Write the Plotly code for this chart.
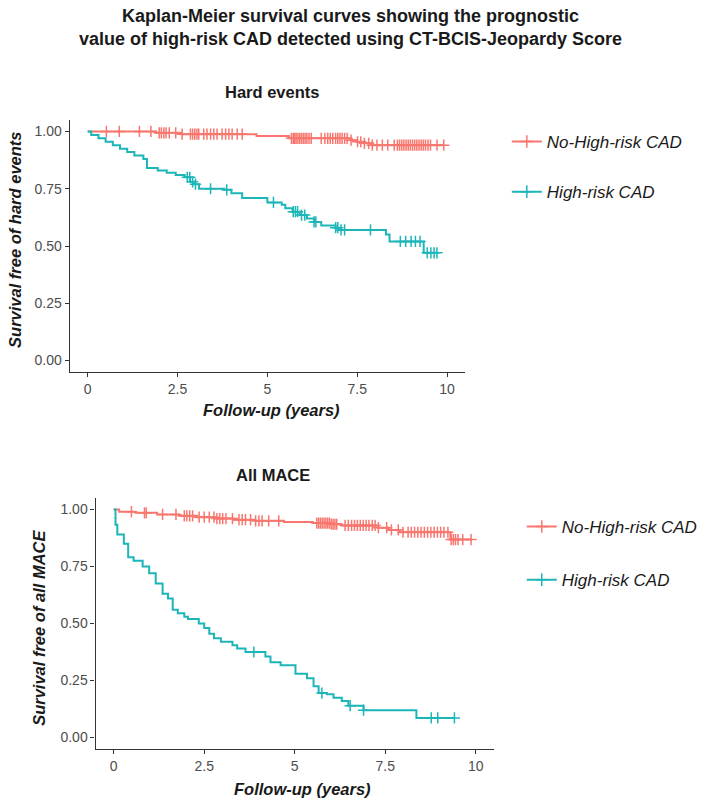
import bisect
import plotly.graph_objects as go

# ---------------- DATA ----------------
group_names = ["No-High-risk CAD", "High-risk CAD"]
x_ticks = [0, 2.5, 5, 7.5, 10]
x_tick_labels = ["0", "2.5", "5", "7.5", "10"]
y_ticks = [0, 0.25, 0.5, 0.75, 1.0]
y_tick_labels = ["0.00", "0.25", "0.50", "0.75", "1.00"]

# Hard events - No-High-risk CAD
hard_low_t = [0, 1.9, 2.6, 4.7, 5.6, 7.3, 7.5, 7.7, 7.9, 9.91]
hard_low_s = [1.0, 0.994, 0.988, 0.98, 0.97, 0.962, 0.955, 0.948, 0.94, 0.94]
hard_low_cens = [0.52, 0.88, 1.44, 1.76, 1.99, 2.05, 2.12, 2.18, 2.27, 2.45, 2.63,
                 2.86, 2.92, 2.98, 3.04, 3.09, 3.23, 3.32, 3.42, 3.51, 3.6, 3.74,
                 3.84, 3.93, 4.02, 4.16, 4.3, 5.67, 5.72, 5.76, 5.8, 5.85, 5.9,
                 5.95, 6.0, 6.05, 6.1, 6.16, 6.22, 6.5, 6.6, 6.68, 6.75, 6.82,
                 6.9, 6.96, 7.02, 7.08, 7.15, 7.22, 7.33, 7.51, 7.6, 7.7, 7.82,
                 7.92, 8.05, 8.2, 8.35, 8.53, 8.62, 8.68, 8.74, 8.8, 8.86, 8.92,
                 8.98, 9.04, 9.1, 9.16, 9.22, 9.28, 9.34, 9.4, 9.47, 9.54, 9.72, 9.91]

# Hard events - High-risk CAD
hard_high_t = [0, 0.1, 0.3, 0.5, 0.7, 0.9, 1.1, 1.3, 1.55, 1.65, 1.95, 2.2, 2.45,
               2.7, 2.85, 2.95, 3.1, 3.8, 4.0, 4.3, 5.0, 5.4, 5.5, 5.7, 5.9, 6.1,
               6.3, 6.5, 6.9, 7.0, 8.3, 8.4, 9.35, 9.72]
hard_high_s = [1.0, 0.985, 0.97, 0.955, 0.94, 0.925, 0.91, 0.895, 0.88, 0.84, 0.83,
               0.82, 0.81, 0.80, 0.78, 0.77, 0.75, 0.745, 0.73, 0.71, 0.69, 0.68,
               0.665, 0.65, 0.635, 0.62, 0.605, 0.59, 0.58, 0.57, 0.55, 0.52, 0.47, 0.47]
hard_high_cens = [2.77, 2.84, 2.92, 3.0, 3.42, 3.87, 5.17, 5.72, 5.78, 5.84, 5.95,
                  6.04, 6.3, 6.35, 6.9, 6.96, 7.05, 7.15, 7.87, 8.7, 8.85, 9.0,
                  9.12, 9.25, 9.45, 9.55, 9.64, 9.72]

# All MACE - No-High-risk CAD
mace_low_t = [0, 0.15, 0.6, 1.2, 1.8, 2.3, 2.8, 3.3, 3.9, 4.7, 5.5, 6.0, 6.3,
              7.3, 7.6, 7.9, 9.3, 9.87]
mace_low_s = [1.0, 0.99, 0.985, 0.978, 0.972, 0.966, 0.96, 0.955, 0.95, 0.945,
              0.94, 0.935, 0.93, 0.92, 0.91, 0.90, 0.868, 0.868]
mace_low_cens = [0.49, 0.85, 0.9, 1.35, 1.72, 1.95, 2.02, 2.1, 2.18, 2.36, 2.5,
                 2.64, 2.77, 2.85, 2.93, 3.01, 3.1, 3.28, 3.46, 3.55, 3.64, 3.78,
                 3.92, 4.01, 4.1, 4.28, 4.56, 5.61, 5.66, 5.71, 5.76, 5.81, 5.86,
                 5.91, 5.96, 6.01, 6.06, 6.11, 6.16, 6.39, 6.48, 6.57, 6.65, 6.73,
                 6.81, 6.89, 6.97, 7.05, 7.14, 7.22, 7.31, 7.54, 7.67, 7.86, 7.99,
                 8.13, 8.22, 8.31, 8.4, 8.49, 8.58, 8.67, 8.76, 8.85, 8.94, 9.03,
                 9.12, 9.23, 9.32, 9.38, 9.44, 9.51, 9.64, 9.87]

# All MACE - High-risk CAD
mace_high_t = [0, 0.05, 0.1, 0.28, 0.4, 0.55, 0.8, 0.98, 1.16, 1.35, 1.5, 1.63,
               1.77, 1.95, 2.05, 2.35, 2.5, 2.64, 2.77, 2.96, 3.28, 3.41, 3.64,
               4.19, 4.33, 4.61, 5.02, 5.34, 5.52, 5.66, 5.89, 6.07, 6.3, 6.48,
               6.9, 8.36, 9.41]
mace_high_s = [1.0, 0.933, 0.89, 0.85, 0.79, 0.775, 0.75, 0.72, 0.675, 0.63, 0.61,
               0.56, 0.545, 0.53, 0.52, 0.5, 0.48, 0.455, 0.435, 0.42, 0.405, 0.39,
               0.375, 0.355, 0.33, 0.317, 0.28, 0.26, 0.225, 0.195, 0.19, 0.175,
               0.16, 0.14, 0.12, 0.086, 0.086]
mace_high_cens = [3.87, 5.75, 6.53, 6.9, 8.77, 8.95, 9.41]

# ---------------- STYLE ----------------
RED = "#F8766D"
TEAL = "#1CB5B8"
FONT = "Liberation Sans, Arial, sans-serif"
W, H = 703, 804


def surv_at(times, surv, t):
    i = bisect.bisect_right(times, t) - 1
    return surv[max(i, 0)]


fig = go.Figure()

panels = [
    ("x", "y", [(hard_low_t, hard_low_s, hard_low_cens, RED),
                (hard_high_t, hard_high_s, hard_high_cens, TEAL)], "legend"),
    ("x2", "y2", [(mace_low_t, mace_low_s, mace_low_cens, RED),
                  (mace_high_t, mace_high_s, mace_high_cens, TEAL)], "legend2"),
]

for xa, ya, series, leg in panels:
    for gi, (t, s, cens, col) in enumerate(series):
        fig.add_trace(go.Scatter(
            x=t, y=s, mode="lines", line=dict(color=col, width=2, shape="hv"),
            xaxis=xa, yaxis=ya, showlegend=False, hoverinfo="skip"))
        fig.add_trace(go.Scatter(
            x=cens, y=[surv_at(t, s, c) for c in cens], mode="markers",
            marker=dict(symbol="cross-thin", size=8,
                        line=dict(color=col, width=1.5)),
            xaxis=xa, yaxis=ya, showlegend=False, hoverinfo="skip"))
        fig.add_trace(go.Scatter(
            x=[None], y=[None], mode="lines+markers", name=group_names[gi],
            line=dict(color=col, width=2),
            marker=dict(symbol="cross-thin", size=9,
                        line=dict(color=col, width=1.5)),
            xaxis=xa, yaxis=ya, legend=leg, legendgroup=leg + str(gi)))


def px_x(p):
    return p / W


def px_y(p):
    return 1 - p / H


axis_common = dict(showline=True, linecolor="#333333", linewidth=1.2,
                   ticks="outside", ticklen=4, tickcolor="#333333", tickwidth=1.2,
                   showgrid=False, zeroline=False,
                   tickfont=dict(family=FONT, size=14, color="#4D4D4D"))

leg_font = dict(family=FONT, size=17, color="#1a1a1a", style="italic")
fig.update_layout(
    width=W, height=H, margin=dict(l=0, r=0, t=0, b=0),
    paper_bgcolor="white", plot_bgcolor="white",
    font=dict(family=FONT),
    xaxis=dict(domain=[px_x(70), px_x(467)], range=[-0.5, 10.5], anchor="y",
               tickvals=x_ticks, ticktext=x_tick_labels, **axis_common),
    yaxis=dict(domain=[px_y(372), px_y(120)], range=[-0.05, 1.05], anchor="x",
               tickvals=y_ticks, ticktext=y_tick_labels, **axis_common),
    xaxis2=dict(domain=[px_x(96), px_x(496)], range=[-0.5, 10.5], anchor="y2",
                tickvals=x_ticks, ticktext=x_tick_labels, **axis_common),
    yaxis2=dict(domain=[px_y(749), px_y(498)], range=[-0.05, 1.05], anchor="x2",
                tickvals=y_ticks, ticktext=y_tick_labels, **axis_common),
    legend=dict(x=px_x(509), y=px_y(124), xanchor="left", yanchor="top",
                font=leg_font, tracegroupgap=25, bgcolor="rgba(0,0,0,0)"),
    legend2=dict(x=px_x(524), y=px_y(509), xanchor="left", yanchor="top",
                 font=leg_font, tracegroupgap=28, bgcolor="rgba(0,0,0,0)"),
)

ann = []
title_font = dict(family=FONT, size=18, color="#1a1a1a", weight="bold")
ann.append(dict(text="Kaplan-Meier survival curves showing the prognostic<br>"
                     "value of high-risk CAD detected using CT-BCIS-Jeopardy Score",
                x=px_x(352), y=px_y(4), xref="paper", yref="paper",
                xanchor="center", yanchor="top", showarrow=False,
                font=title_font, align="center"))
sub_font = dict(family=FONT, size=16.5, color="#1a1a1a", weight="bold")
ann.append(dict(text="Hard events", x=px_x(273), y=px_y(92), xref="paper",
                yref="paper", xanchor="center", yanchor="middle", showarrow=False,
                font=sub_font))
ann.append(dict(text="All MACE", x=px_x(274), y=px_y(475), xref="paper",
                yref="paper", xanchor="center", yanchor="middle", showarrow=False,
                font=sub_font))
axt_font = dict(family=FONT, size=16.5, color="#1a1a1a", weight="bold", style="italic")
ann.append(dict(text="Follow-up (years)", x=px_x(273), y=px_y(410), xref="paper",
                yref="paper", xanchor="center", yanchor="middle", showarrow=False,
                font=axt_font))
ann.append(dict(text="Follow-up (years)", x=px_x(304), y=px_y(789), xref="paper",
                yref="paper", xanchor="center", yanchor="middle", showarrow=False,
                font=axt_font))
ann.append(dict(text="Survival free of hard events", x=px_x(15), y=px_y(240),
                xref="paper", yref="paper", xanchor="center", yanchor="middle",
                showarrow=False, textangle=-90, font=axt_font))
ann.append(dict(text="Survival free of all MACE", x=px_x(39), y=px_y(628),
                xref="paper", yref="paper", xanchor="center", yanchor="middle",
                showarrow=False, textangle=-90, font=axt_font))
fig.update_layout(annotations=ann)

fig.write_html("out.html")
